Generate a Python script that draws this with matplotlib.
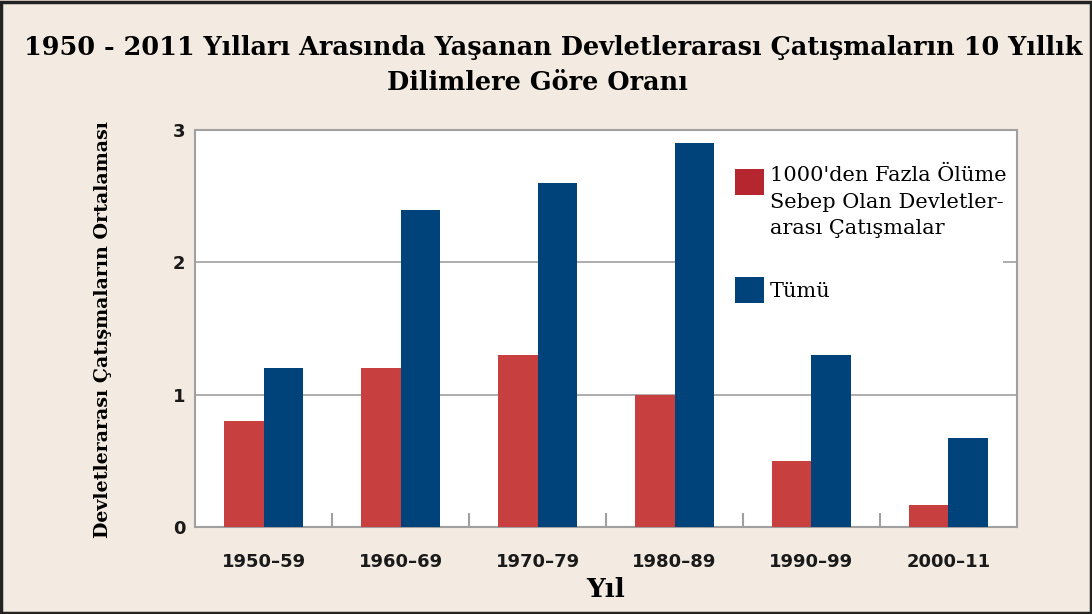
import numpy as np
import matplotlib.pyplot as plt
from matplotlib.patches import Rectangle

periods = ['1950–59', '1960–69', '1970–79', '1980–89', '1990–99', '2000–11']
deadly = [0.8, 1.2, 1.3, 1.0, 0.5, 0.17]
total = [1.2, 2.4, 2.6, 2.9, 1.3, 0.67]
label_deadly = "1000'den Fazla Ölüme\nSebep Olan Devletler-\narası Çatışmalar"
label_total = 'Tümü'

bg = '#f3ebe2'
red = '#c83f3f'
red_key = '#b5262f'
blue = '#00427a'
grey = '#a0a0a0'
serif = 'DejaVu Serif'

fig = plt.figure(figsize=(10.92, 6.14), dpi=100, facecolor=bg)
fig.patches.append(Rectangle((0.001, 0.002), 0.998, 0.995, transform=fig.transFigure,
                             fill=False, edgecolor='#222222', linewidth=2.5))
ax = fig.add_axes([0.1786, 0.1417, 0.7527, 0.6463])

x = np.arange(len(periods))
w = 0.285
ax.bar(x - w / 2, deadly, w, color=red, zorder=3)
ax.bar(x + w / 2, total, w, color=blue, zorder=3)

ax.set_xlim(-0.5, len(periods) - 0.5)
ax.set_ylim(0, 3)
ax.set_yticks([0, 1, 2, 3])
ax.yaxis.grid(True, color=grey, linewidth=1.2, zorder=0)
ax.set_axisbelow(True)
for s in ax.spines.values():
    s.set_color(grey)
    s.set_linewidth(1.5)

ax.set_xticks(x)
ax.set_xticklabels(periods)
ax.tick_params(axis='x', length=0, pad=19)
ax.tick_params(axis='y', length=0, pad=7)
for lab in ax.get_xticklabels() + ax.get_yticklabels():
    lab.set_fontfamily('DejaVu Sans')
    lab.set_fontweight('bold')
    lab.set_fontsize(13)
    lab.set_color('#1a1a1a')

# small inward ticks between groups
ax.set_xticks(x[:-1] + 0.5, minor=True)
ax.tick_params(axis='x', which='minor', direction='in', length=10, width=1.5, color=grey)

ax.set_xlabel('Yıl', fontfamily=serif, fontweight='bold', fontsize=19, labelpad=4)
fig.text(103 / 1092, 1 - 330 / 614, 'Devletlerarası Çatışmaların Ortalaması',
         fontfamily=serif, fontweight='bold', fontsize=13.7, rotation=90,
         ha='center', va='center')

fig.text(553 / 1092, 1 - 48 / 614,
         '1950 - 2011 Yılları Arasında Yaşanan Devletlerarası Çatışmaların 10 Yıllık',
         fontfamily=serif, fontweight='bold', fontsize=18.4, ha='center', va='center')
fig.text(537 / 1092, 1 - 83 / 614, 'Dilimlere Göre Oranı',
         fontfamily=serif, fontweight='bold', fontsize=18.4, ha='center', va='center')

# legend block (white box hides the gridline behind it)
ax.add_patch(Rectangle((0.631, 0.45), 0.352, 0.535, transform=ax.transAxes,
                       facecolor='white', edgecolor='none', zorder=1))
ax.add_patch(Rectangle((0.657, 0.836), 0.0353, 0.0655, transform=ax.transAxes,
                       facecolor=red_key, edgecolor='none', zorder=4))
ax.add_patch(Rectangle((0.657, 0.564), 0.0353, 0.0655, transform=ax.transAxes,
                       facecolor=blue, edgecolor='none', zorder=4))
ax.text(0.6995, 0.818, label_deadly, transform=ax.transAxes, fontfamily=serif,
        fontsize=15, va='center', ha='left', linespacing=1.5, zorder=4)
ax.text(0.6995, 0.594, label_total, transform=ax.transAxes, fontfamily=serif,
        fontsize=15, va='center', ha='left', zorder=4)

fig.savefig('out.png', dpi=100, facecolor=bg)
